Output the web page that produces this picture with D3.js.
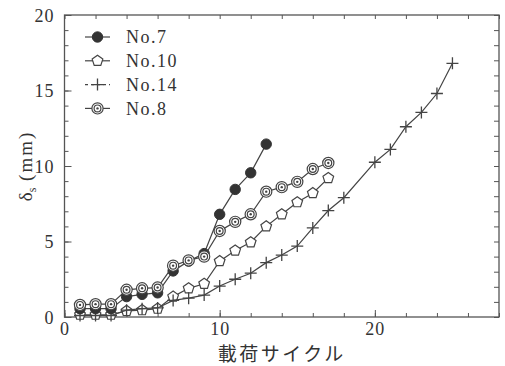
<!DOCTYPE html>
<html>
<head>
<meta charset="utf-8">
<script src="https://cdn.jsdelivr.net/npm/d3@7"></script>
<style>
  body { margin: 0; background: #fff; }
  svg { display: block; }
  .tick text { font-family: "Liberation Serif", "DejaVu Serif", serif; font-size: 18px; fill: #333; letter-spacing: 1px; }
  .tick line { stroke: #555; }
</style>
</head>
<body>
<div id="chart"></div>
<script>
// data
const seriesNames = ["No.7", "No.10", "No.14", "No.8"];

const cyclesNo7 = [1,2,3,4,5,6,7,8,9,10,11,12,13];
const deltaNo7 = [0.55,0.55,0.55,1.35,1.5,1.6,3.05,3.7,4.2,6.8,8.45,9.55,11.45];

const cyclesNo10 = [1,2,3,4,5,6,7,8,9,10,11,12,13,14,15,16,17];
const deltaNo10 = [0.15,0.15,0.15,0.4,0.45,0.55,1.35,1.9,2.2,3.7,4.4,4.95,6.0,6.8,7.6,8.2,9.2];

const cyclesNo14 = [1,2,3,4,5,6,7,8,9,10,11,12,13,14,15,16,17,18,20,21,22,23,24,25];
const deltaNo14 = [0.1,0.1,0.1,0.45,0.55,0.6,1.1,1.25,1.45,2.05,2.5,2.9,3.6,4.1,4.7,5.9,7.05,7.9,10.25,11.1,12.6,13.55,14.8,16.8];

const cyclesNo8 = [1,2,3,4,5,6,7,8,9,10,11,12,13,14,15,16,17];
const deltaNo8 = [0.8,0.85,0.85,1.8,1.9,1.95,3.4,3.75,4.0,5.7,6.3,6.8,8.3,8.6,8.95,9.8,10.2];

const xMinorTicks = d3.range(0, 29, 2);
const xMajorTicks = [0, 10, 20];
const yMinorTicks = d3.range(0, 21, 1);
const yMajorTicks = [0, 5, 10, 15, 20];

const xLabel = "載荷サイクル";

const W = 505, H = 366;
const margin = {top: 15, right: 6, bottom: 49, left: 64.5};
const width = W - margin.left - margin.right;
const height = H - margin.top - margin.bottom;
const ink = "#444";

const svg = d3.select("#chart").append("svg")
  .attr("width", W).attr("height", H);

const g = svg.append("g")
  .attr("transform", "translate(" + margin.left + "," + margin.top + ")");

const x = d3.scaleLinear().domain([0, 28]).range([0, width]);
const y = d3.scaleLinear().domain([0, 20]).range([height, 0]);

// axes, ticks pointing inward
function addAxis(axisFn, scale, ticks, size, transform, labels) {
  const a = g.append("g").attr("transform", transform)
    .call(axisFn(scale).tickValues(ticks).tickSizeInner(size).tickSizeOuter(0)
      .tickPadding(3)
      .tickFormat(labels ? d3.format("d") : ""));
  a.select(".domain").remove();
  return a;
}
addAxis(d3.axisBottom, x, xMinorTicks, -4, "translate(0," + height + ")", false);
const xAxisMajor = addAxis(d3.axisBottom, x, xMajorTicks, -7, "translate(0," + height + ")", true);
addAxis(d3.axisTop, x, xMinorTicks, -4, "translate(0,0)", false);
addAxis(d3.axisLeft, y, yMinorTicks, -4, "translate(0,0)", false);
const yAxisMajor = addAxis(d3.axisLeft, y, yMajorTicks, -7, "translate(0,0)", true);
addAxis(d3.axisRight, y, yMinorTicks, -5, "translate(" + width + ",0)", false);

g.selectAll(".tick line").attr("stroke", "#555").attr("stroke-width", 1);
xAxisMajor.selectAll(".tick text").attr("dy", null).attr("y", 18);
yAxisMajor.selectAll(".tick text").attr("x", -10).attr("dy", "0.35em");

g.append("rect")
  .attr("width", width).attr("height", height)
  .attr("fill", "none").attr("stroke", "#555").attr("stroke-width", 1.3);

// marker shapes
function pentagonPath(r) {
  const pts = d3.range(5).map(i => {
    const a = -Math.PI / 2 + i * 2 * Math.PI / 5;
    return [r * Math.cos(a), r * Math.sin(a)];
  });
  return "M" + pts.map(p => p.join(",")).join("L") + "Z";
}

function drawMarker(sel, name) {
  if (name === "No.7") {
    sel.append("circle").attr("r", 5.2).attr("fill", "#333").attr("stroke", "#333");
  } else if (name === "No.10") {
    sel.append("path").attr("d", pentagonPath(5.6)).attr("fill", "#fff")
      .attr("stroke", ink).attr("stroke-width", 1.2);
  } else if (name === "No.14") {
    sel.append("path").attr("d", "M-6,0H6M0,-6V6")
      .attr("stroke", ink).attr("stroke-width", 1.3).attr("fill", "none");
  } else {
    sel.append("circle").attr("r", 5.6).attr("fill", "#fff").attr("stroke", ink).attr("stroke-width", 1.2);
    sel.append("circle").attr("r", 3.4).attr("fill", "#fff").attr("stroke", ink).attr("stroke-width", 1.2);
    sel.append("circle").attr("r", 1.2).attr("fill", ink);
  }
}

const seriesData = {
  "No.7": d3.zip(cyclesNo7, deltaNo7),
  "No.10": d3.zip(cyclesNo10, deltaNo10),
  "No.14": d3.zip(cyclesNo14, deltaNo14),
  "No.8": d3.zip(cyclesNo8, deltaNo8)
};

const line = d3.line().x(d => x(d[0])).y(d => y(d[1]));

// draw order so rings sit over filled dots and pluses over pentagons
["No.10", "No.14", "No.7", "No.8"].forEach(name => {
  const data = seriesData[name];
  g.append("path").datum(data)
    .attr("d", line).attr("fill", "none")
    .attr("stroke", ink).attr("stroke-width", 1.2);
  g.append("g").selectAll("g")
    .data(data).enter().append("g")
    .attr("transform", d => "translate(" + x(d[0]) + "," + y(d[1]) + ")")
    .each(function() { drawMarker(d3.select(this), name); });
});

// legend
const legend = svg.append("g").attr("transform", "translate(85,37)");
seriesNames.forEach((name, i) => {
  const row = legend.append("g").attr("transform", "translate(0," + (i * 23.8) + ")");
  row.append("line").attr("x1", 0).attr("x2", 25).attr("y1", 0).attr("y2", 0)
    .attr("stroke", ink).attr("stroke-width", 1.2)
    .attr("stroke-dasharray", name === "No.14" ? "3,3" : null);
  drawMarker(row.append("g").attr("transform", "translate(12.5,0)"), name);
  row.append("text").attr("x", 41).attr("y", 0).attr("dy", "0.35em")
    .attr("font-family", "'Liberation Serif', serif").attr("font-size", 18)
    .attr("letter-spacing", 1.5).attr("fill", "#333")
    .text(name);
});

// axis titles
const yTitle = svg.append("text")
  .attr("transform", "translate(32," + (margin.top + height / 2) + ") rotate(-90)")
  .attr("text-anchor", "middle")
  .attr("font-family", "'Liberation Serif', serif").attr("font-size", 19)
  .attr("fill", "#333");
yTitle.append("tspan").text("δ");
yTitle.append("tspan").attr("font-size", 12).attr("dy", 4).text("s");
yTitle.append("tspan").attr("dy", -4).attr("letter-spacing", 2).text(" (mm)");

svg.append("text")
  .attr("x", margin.left + width / 2).attr("y", 360.5)
  .attr("text-anchor", "middle")
  .attr("font-family", "'Noto Sans CJK JP', sans-serif").attr("font-size", 19)
  .attr("letter-spacing", 2.5)
  .attr("fill", "#333")
  .text(xLabel);
</script>
</body>
</html>
